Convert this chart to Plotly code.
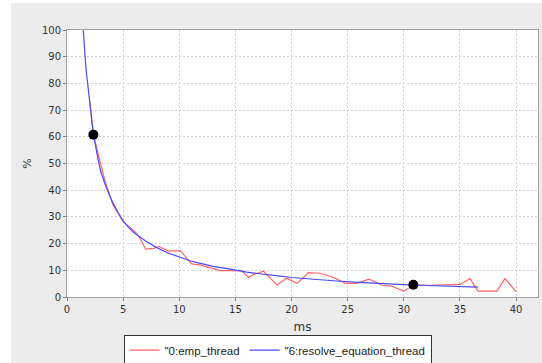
import plotly.graph_objects as go

# emp_thread (measured)
emp_x = [2.0, 2.35, 3.4, 4.1, 5.0, 6.05, 6.5, 7.0, 7.7, 8.2, 9.0, 10.1, 11.1, 11.85,
         13.6, 15.55, 16.15, 16.75, 17.5, 18.7, 19.55, 20.5, 21.5, 22.5, 23.6, 24.8,
         25.8, 26.9, 28.0, 28.9, 30.0, 30.85, 32.3, 35.0, 35.9, 36.6, 38.3, 39.0, 40.0]
emp_y = [73.8, 60.7, 43.2, 34.5, 28.2, 24.5, 22.0, 17.9, 18.2, 18.9, 17.3, 17.3, 12.4, 12.0,
         9.9, 9.9, 7.4, 8.6, 9.7, 4.5, 7.0, 5.1, 9.1, 8.9, 7.6, 5.1,
         5.1, 6.7, 4.5, 4.1, 2.2, 4.5, 4.4, 4.7, 6.9, 2.2, 2.2, 6.9, 2.0]

# resolve_equation_thread (fitted)
fit_x = [1.45, 1.7, 2.0, 2.35, 2.7, 3.0, 3.5, 4.0, 4.5, 5.0, 5.5, 6.0, 7.0, 8.0, 9.0,
         10.0, 11.0, 12.0, 13.0, 14.0, 15.0, 16.0, 17.0, 18.0, 19.0, 20.0, 22.0, 24.0,
         26.0, 28.0, 30.0, 32.0, 34.0, 36.6]
fit_y = [100, 85, 74, 61, 53, 47, 41, 36, 32, 28.5, 26, 24, 21, 18.5, 16.5,
         15, 13.5, 12.5, 11.5, 10.8, 10, 9.3, 8.8, 8.2, 7.8, 7.3, 6.6, 6.0,
         5.5, 5.0, 4.6, 4.3, 4.0, 3.7]

# highlighted points
pt_x = [2.35, 30.85]
pt_y = [60.8, 4.6]

series_names = ['"0:emp_thread', '"6:resolve_equation_thread']

fig = go.Figure()
fig.add_trace(go.Scatter(x=emp_x, y=emp_y, mode="lines", name=series_names[0],
                         line=dict(color="#ff6464", width=1.2)))
fig.add_trace(go.Scatter(x=fit_x, y=fit_y, mode="lines", name=series_names[1],
                         line=dict(color="#4a4aff", width=1.2)))
fig.add_trace(go.Scatter(x=pt_x, y=pt_y, mode="markers", showlegend=False,
                         marker=dict(color="black", size=10)))

W, H = 542, 363
L, R, T, B = 67, 4, 30, 66
pw, ph = W - L - R, H - T - B

axis_common = dict(
    showgrid=True, gridcolor="#d0d0d0", griddash="2px,2px", gridwidth=1,
    showline=True, linecolor="#a0a0a0", mirror=True, linewidth=1,
    ticks="outside", ticklen=3, tickcolor="#808080",
    tickfont=dict(family="DejaVu Sans", size=10, color="#333333"),
    zeroline=False,
)

fig.update_layout(
    width=W, height=H,
    margin=dict(l=L, r=R, t=T, b=B, autoexpand=False),
    paper_bgcolor="#ececec", plot_bgcolor="white",
    xaxis=dict(range=[0, 41.95], tickvals=[0, 5, 10, 15, 20, 25, 30, 35, 40],
               title=dict(text="ms", standoff=8,
                          font=dict(family="DejaVu Sans", size=12, color="#333333")),
               automargin=False, **axis_common),
    yaxis=dict(range=[0, 100], tickvals=list(range(0, 101, 10)),
               title=dict(text="%", standoff=8,
                          font=dict(family="DejaVu Sans", size=11, color="#333333")),
               automargin=False, **axis_common),
    legend=dict(orientation="h", x=0.447, xanchor="center", y=-B / ph - 0.01, yanchor="bottom",
                bgcolor="white", bordercolor="#333333", borderwidth=1,
                font=dict(family="Liberation Sans", size=11.5, color="#222222"),
                itemwidth=30, tracegroupgap=0),
    shapes=[
        dict(type="rect", xref="paper", yref="paper", layer="below",
             x0=-L / pw - 0.01, x1=(11 - L) / pw,
             y0=-B / ph - 0.01, y1=1 + T / ph + 0.01,
             fillcolor="white", line=dict(width=0)),
        dict(type="rect", xref="paper", yref="paper", layer="below",
             x0=-L / pw - 0.01, x1=(W - L) / pw + 0.01,
             y0=1 + (T - 3) / ph, y1=1 + T / ph + 0.01,
             fillcolor="white", line=dict(width=0)),
    ],
)

fig.write_html("out.html")
